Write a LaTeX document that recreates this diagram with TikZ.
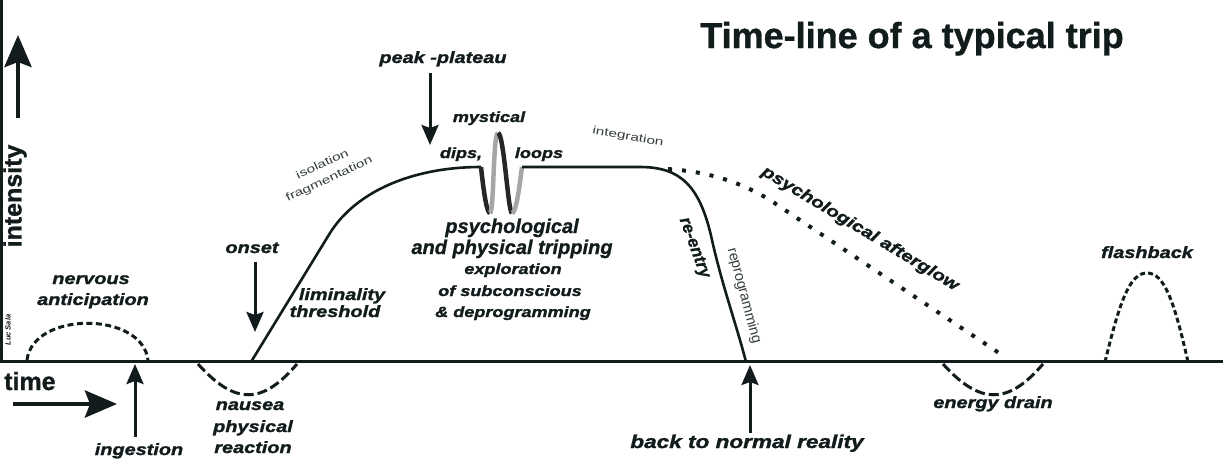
\documentclass[tikz,border=0pt]{standalone}
\usepackage{fontspec}
\setmainfont{Liberation Sans}
\newfontfamily\heavyfam[FakeStretch=1.22,FakeBold=1.5]{Liberation Sans}
\newfontfamily\boldfam[FakeBold=1]{Liberation Sans}
\newfontfamily\widefam[FakeStretch=1.4]{Liberation Sans}
\usetikzlibrary{arrows.meta}
\definecolor{ink}{RGB}{18,28,28}
\newcommand\labfont{\heavyfam\bfseries\itshape\fontsize{16.3}{19}\selectfont}
\newcommand\smlfont{\heavyfam\bfseries\itshape\fontsize{14.8}{17}\selectfont}
\newcommand\psyfont{\boldfam\bfseries\itshape\fontsize{20}{22}\selectfont}
\newcommand\thinfont{\widefam\fontsize{11}{16}\selectfont}
\begin{document}
\begin{tikzpicture}[x=1pt,y=-1pt,
  lab/.style={inner sep=0pt, anchor=base, text=ink, font=\labfont},
  sml/.style={inner sep=0pt, anchor=base, text=ink, font=\smlfont},
  psy/.style={inner sep=0pt, anchor=base, text=ink, font=\psyfont},
  thin/.style={inner sep=0pt, text=ink!85, font=\thinfont},
  axis/.style={draw=ink, line width=3pt},
  curve/.style={draw=ink, line width=2.6pt},
  bigarrow/.style={draw=ink, line width=4.5pt, -{Stealth[length=32pt,width=27pt,inset=5pt]}},
  arrow/.style={draw=ink, line width=3pt, -{Stealth[length=20pt,width=17pt,inset=3pt]}},
  shortdash/.style={draw=ink, line width=3pt, dash pattern=on 6pt off 3.5pt},
  longdash/.style={draw=ink, line width=3pt, dash pattern=on 10pt off 4pt},
  fbdash/.style={draw=ink, line width=3pt, dash pattern=on 5pt off 3pt},
  dotline/.style={draw=ink, line width=4pt, dash pattern=on 4pt off 10pt},
  darkstroke/.style={draw=black!85, line width=4.5pt},
  lightstroke/.style={draw=black!35, line width=4.5pt}]
\useasboundingbox[fill=white] (0,0) rectangle (1223,459);

% axes
\coordinate (origin) at (1.5,361.5);
\coordinate (ytop) at (1.5,0);
\coordinate (xend) at (1223,361.5);
\draw[axis] (ytop) -- (origin) -- (xend);

% title
\node[inner sep=0pt, anchor=base, text=ink, font=\boldfam\bfseries\fontsize{36}{40}\selectfont] (title) at (912,48) {Time-line of a typical trip};

% axis labels
\node[inner sep=0pt, rotate=90, text=ink, font=\boldfam\bfseries\fontsize{25}{28}\selectfont] (intensity) at (15,196) {intensity};
\coordinate (intbot) at (18,118);
\coordinate (inttop) at (18,35);
\draw[bigarrow] (intbot) -- (inttop);
\node[inner sep=0pt, anchor=base west, text=ink, font=\boldfam\bfseries\fontsize{25}{28}\selectfont] (time) at (4,390) {time};
\coordinate (timeL) at (13,404);
\coordinate (timeR) at (117,404);
\draw[bigarrow] (timeL) -- (timeR);
\node[inner sep=0pt, rotate=90, text=ink, font=\bfseries\itshape\fontsize{7.5}{9}\selectfont] (luc) at (8,330) {Luc Sala};

% nervous anticipation
\node[lab] (nerv1) at (91,284) {nervous};
\node[lab] (nerv2) at (93,305) {anticipation};
\coordinate (na0) at (27,360);
\coordinate (na1) at (148,360);
\draw[shortdash] (na0) .. controls (33,311) and (142,311) .. (na1);

% ingestion
\node[lab] (ingestion) at (139,455) {ingestion};
\coordinate (ingbase) at (135,437);
\coordinate (ingtip) at (135,364);
\draw[arrow] (ingbase) -- (ingtip);

% nausea
\coordinate (nz0) at (198,364);
\coordinate (nz1) at (297,364);
\draw[longdash] (nz0) .. controls (235,405) and (262,405) .. (nz1);
\node[lab] (nau1) at (250,410) {nausea};
\node[lab] (nau2) at (253,432) {physical};
\node[lab] (nau3) at (253,453) {reaction};

% onset
\node[lab] (onset) at (252,253) {onset};
\coordinate (onbase) at (255,262);
\coordinate (ontip) at (255,332);
\draw[arrow] (onbase) -- (ontip);

% main curve
\coordinate (start) at (251,362);
\coordinate (riseend) at (330,233);
\coordinate (plL) at (481,167);
\coordinate (sqB) at (490,213);
\coordinate (sqC) at (498,133);
\coordinate (sqD) at (512,213);
\coordinate (plR) at (522,167);
\coordinate (plE) at (640,167);
\coordinate (desc) at (712,240);
\coordinate (end) at (746,362);
\draw[curve] (start) -- (riseend) .. controls (355,193) and (410,167) .. (plL);
\draw[darkstroke] (plL) .. controls (484,195) and (487,213) .. (sqB);
\draw[lightstroke] (sqB) .. controls (494,213) and (493,133) .. (sqC);
\draw[darkstroke] (sqC) .. controls (504,133) and (508,213) .. (sqD);
\draw[lightstroke] (sqD) .. controls (516,213) and (519,190) .. (plR);
\draw[curve] (plR) -- (plE) .. controls (680,167) and (700,185) .. (desc) .. controls (722,285) and (738,330) .. (end);

% afterglow
\coordinate (ag0) at (668,169);
\coordinate (ag1) at (770,200);
\coordinate (ag2) at (1005,357);
\draw[dotline] (ag0) .. controls (710,172) and (740,182) .. (ag1) -- (ag2);
\node[inner sep=0pt, rotate=-31, text=ink, font=\labfont] (afterglow) at (860,229) {psychological afterglow};

% peak labels
\node[lab] (peak) at (443,63) {peak -plateau};
\coordinate (pkbase) at (430,73);
\coordinate (pktip) at (430,145);
\draw[arrow] (pkbase) -- (pktip);
\node[sml] (mystical) at (489,122) {mystical};
\node[sml] (dips) at (461,158) {dips,};
\node[sml] (loops) at (539,158) {loops};

\node[psy] (psy1) at (512,233) {psychological};
\node[psy] (psy2) at (512,254) {and physical tripping};
\node[sml] (exp1) at (513,274) {exploration};
\node[sml] (exp2) at (510,296) {of subconscious};
\node[sml] (exp3) at (513,317) {\& deprogramming};

\node[lab] (lim1) at (342,300) {liminality};
\node[lab] (lim2) at (335,317) {threshold};

\node[thin, rotate=25, align=center] (iso) at (326,172) {isolation\\fragmentation};
\node[thin, rotate=-10] (integ) at (628,137) {integration};

% re-entry
\node[inner sep=0pt, rotate=-70, text=ink, font=\boldfam\bfseries\itshape\fontsize{17}{20}\selectfont] (reentry) at (694,248) {re-entry};
\node[inner sep=0pt, rotate=-75, text=ink!85, font=\fontsize{14.5}{16}\selectfont] (reprog) at (744,296) {reprogramming};

% back to normal reality
\node[lab, font=\heavyfam\bfseries\itshape\fontsize{18.5}{21}\selectfont] (back) at (747,448) {back to normal reality};
\coordinate (bkbase) at (750,433);
\coordinate (bktip) at (750,365);
\draw[arrow] (bkbase) -- (bktip);

% energy drain
\coordinate (ed0) at (943,364);
\coordinate (ed1) at (1043,364);
\draw[longdash] (ed0) .. controls (980,405) and (1008,405) .. (ed1);
\node[lab] (drain) at (993,408) {energy drain};

% flashback
\coordinate (fb0) at (1105,362);
\coordinate (fbp) at (1147,273);
\coordinate (fb1) at (1188,362);
\draw[fbdash] (fb0) .. controls (1120,300) and (1130,273) .. (fbp) .. controls (1164,273) and (1174,300) .. (fb1);
\node[lab] (flash) at (1147,258) {flashback};
\end{tikzpicture}
\end{document}
